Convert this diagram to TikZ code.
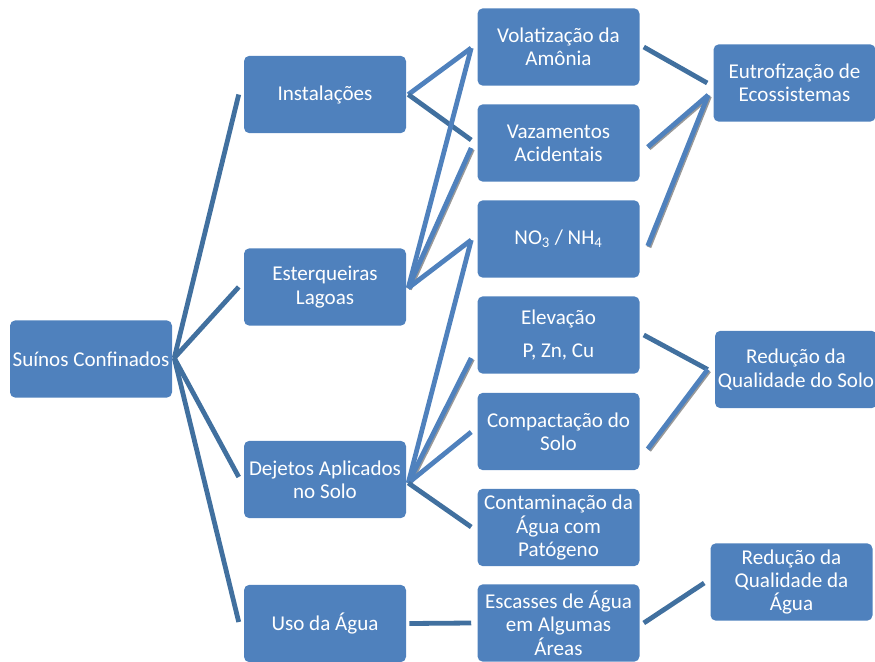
\documentclass[tikz,border=0pt]{standalone}
\usepackage{fontspec}
\setmainfont{Carlito}
\usetikzlibrary{calc}
\definecolor{boxblue}{HTML}{4F81BD}
\definecolor{lineA}{HTML}{4F81BD}
\definecolor{lineB}{HTML}{41709F}
\tikzset{
  box/.style={rectangle, rounded corners=4pt, fill=boxblue, text=white, inner sep=0pt,
    minimum width=121.5pt, minimum height=58pt, align=center,
    font=\fontsize{15.8}{17.5}\selectfont},
  lnA/.style={draw=lineA, line width=3.6pt},
  lnB/.style={draw=lineB, line width=3.6pt},
  shad/.style={preaction={draw=black!40, line width=3.6pt, transform canvas={xshift=0.9pt, yshift=-0.9pt}}}
}
\begin{document}
\begin{tikzpicture}[x=0.75pt, y=-0.75pt]
\useasboundingbox (0,0) rectangle (875,661);
% left column
\node[box] (s) at (91,359) {Suínos Confinados};
\node[box] (inst) at (325,94.5) {Instalações};
\node[box] (est) at (325,287) {Esterqueiras\\Lagoas};
\node[box] (dej) at (325,479.5) {Dejetos Aplicados\\no Solo};
\node[box] (uso) at (325,623.5) {Uso da Água};
% middle column
\node[box] (vol) at (558.5,47) {Volatização da\\Amônia};
\node[box] (vaz) at (558.5,143) {Vazamentos\\Acidentais};
\node[box] (no3) at (558.5,239) {NO\textsubscript{3} / NH\textsubscript{4}};
\node[box] (elev) at (558.5,335) {Elevação\\[7.5pt]P, Zn, Cu};
\node[box] (comp) at (558.5,431.5) {Compactação do\\Solo};
\node[box] (cont) at (558.5,527.5) {Contaminação da\\Água com\\Patógeno};
\node[box] (esc) at (558.5,623) {Escasses de Água\\em Algumas\\Áreas};
% right column
\node[box] (eut) at (794.5,83) {Eutrofização de\\Ecossistemas};
\node[box] (rsolo) at (796,369.5) {Redução da\\Qualidade do Solo};
\node[box] (ragua) at (791.5,582) {Redução da\\Qualidade da\\Água};
% connector points
\coordinate (sp) at ($(s.east)+(2,-1)$);
\coordinate (ip) at ($(inst.east)+(2,0)$);
\coordinate (ep) at ($(est.east)+(2,1)$);
\coordinate (dp) at ($(dej.east)+(2,3.5)$);
\coordinate (volL) at ($(vol.west)+(-6,1)$);
\coordinate (no3L) at ($(no3.west)+(-6,1)$);
\coordinate (eutL) at ($(eut.west)+(-5,12)$);
\coordinate (rsL) at ($(rsolo.west)+(-7,0)$);
% Suínos fan
\draw[lnB] (sp) -- ($(inst.west)+(-5,0)$);
\draw[lnB] (sp) -- ($(est.west)+(-5,0)$);
\draw[lnB] (sp) -- ($(dej.west)+(-5,-2.5)$);
\draw[lnB] (sp) -- ($(uso.west)+(-5,-1.5)$);
% Instalações
\draw[lnA] (ip) -- (volL);
\draw[lnB] (ip) -- ($(vaz.west)+(-6,-3)$);
% Esterqueiras
\draw[lnA] (ep) -- (volL);
\draw[lnA, shad] (ep) -- ($(vaz.west)+(-6,5)$);
\draw[lnA] (ep) -- (no3L);
% Dejetos
\draw[lnA] (dp) -- (no3L);
\draw[lnA, shad] (dp) -- ($(elev.west)+(-6,23)$);
\draw[lnA] (dp) -- ($(comp.west)+(-6,0.5)$);
\draw[lnB] (dp) -- ($(cont.west)+(-6,-0.5)$);
% Uso
\draw[lnB] ($(uso.east)+(3,0)$) -- ($(esc.west)+(-6,0)$);
% right side
\draw[lnB] ($(vol.east)+(4,0)$) -- ($(eut.west)+(-6,0)$);
\draw[lnA, shad] ($(vaz.east)+(8,4)$) -- (eutL);
\draw[lnA, shad] ($(no3.east)+(8,7)$) -- (eutL);
\draw[lnB] ($(elev.east)+(4,0)$) -- (rsL);
\draw[lnA, shad] ($(comp.east)+(8,17.5)$) -- (rsL);
\draw[lnB] ($(esc.east)+(4,0)$) -- ($(ragua.west)+(-6,1)$);
\end{tikzpicture}
\end{document}
